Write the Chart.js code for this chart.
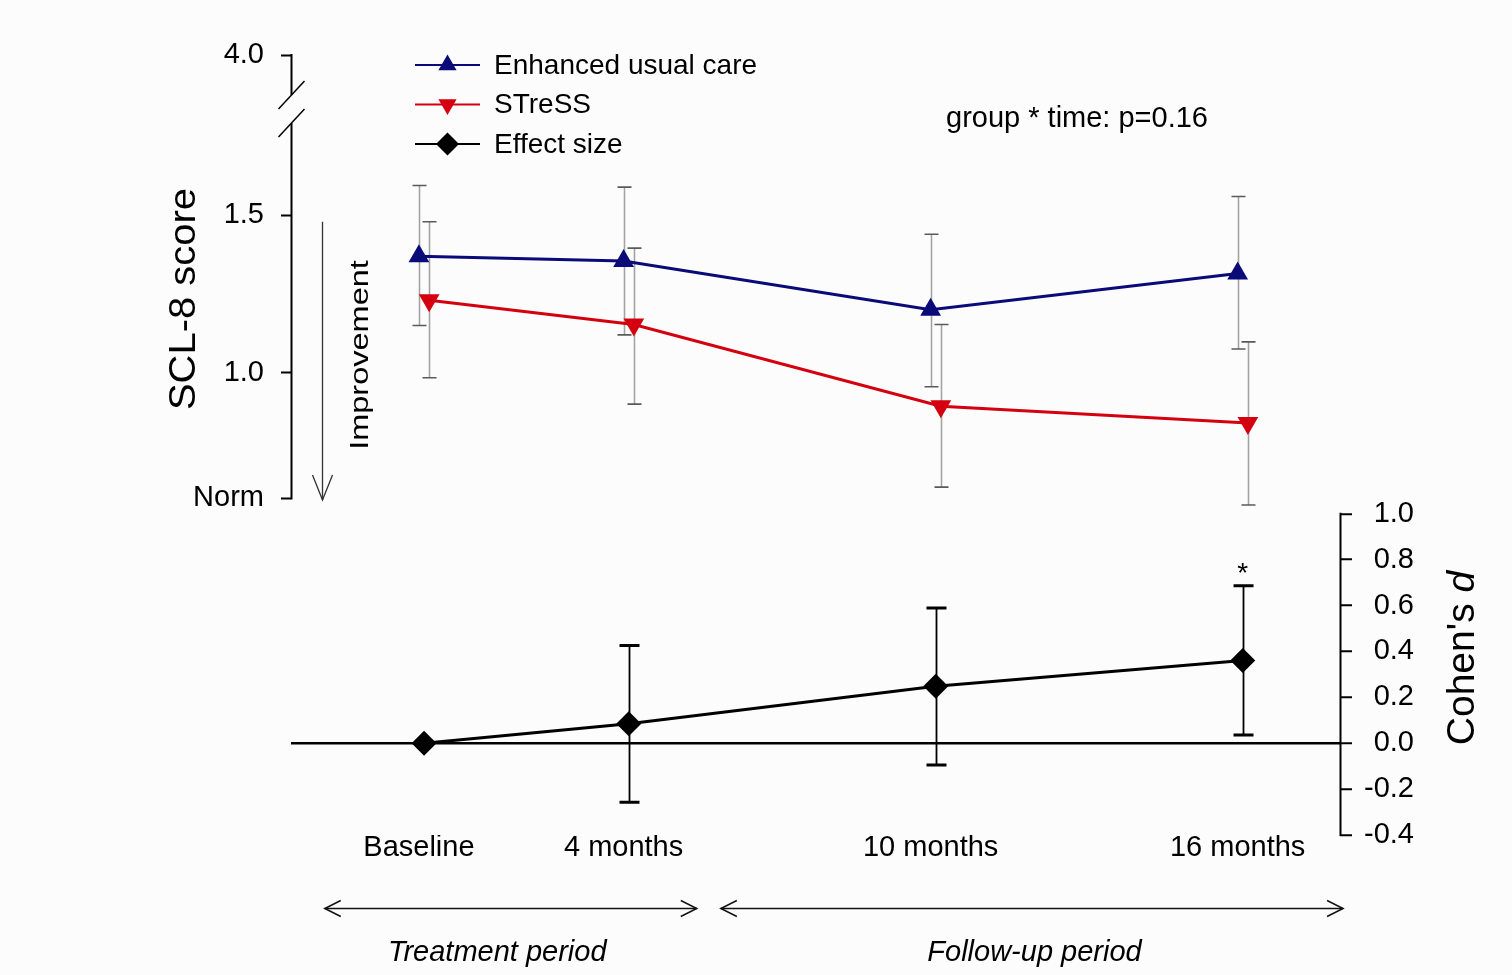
<!DOCTYPE html>
<html>
<head>
<meta charset="utf-8">
<title>SCL-8 score and effect size</title>
<script src="https://cdn.jsdelivr.net/npm/chart.js@4.4.1/dist/chart.umd.min.js"></script>
<style>
    html, body { margin: 0; padding: 0; background: #fcfcfc; }
    #wrap { position: relative; width: 1512px; height: 975px; }
</style>
</head>
<body>
<div id="wrap"><canvas id="chart"></canvas></div>
<script>
// ------------------------------------------------------------
// data
// ------------------------------------------------------------

// time points (months since baseline) and their labels
const months = [0, 4, 10, 16];
const timeLabels = ["Baseline", "4 months", "10 months", "16 months"];

// SCL-8 score, enhanced usual care: mean and error bar ends
const eucMean = [1.37, 1.355, 1.20, 1.315];
const eucLow = [1.15, 1.12, 0.955, 1.075];
const eucHigh = [1.595, 1.59, 1.44, 1.56];

// SCL-8 score, STreSS
const stressMean = [1.23, 1.153, 0.893, 0.84];
const stressLow = [0.984, 0.90, 0.636, 0.579];
const stressHigh = [1.48, 1.396, 1.153, 1.098];

// Cohen's d between groups, with error bar ends
const effectD = [0.0, 0.085, 0.248, 0.361];
const effectLow = [null, -0.257, -0.095, 0.036];
const effectHigh = [null, 0.426, 0.589, 0.686];
const effectSig = ["", "", "", "*"];

// axis ticks (SCL axis is broken: its top tick stands for 4.0)
const sclTickValues = [0.6, 1.0, 1.5, 2.01];
const sclTickLabels = ["Norm", "1.0", "1.5", "4.0"];
const dTickValues = [-0.4, -0.2, 0.0, 0.2, 0.4, 0.6, 0.8, 1.0];

const periodLabels = ["Treatment period", "Follow-up period"];
const interaction = "group * time: p=0.16";

// ------------------------------------------------------------

const FONT = '"Liberation Sans", Arial, Helvetica, sans-serif';
const NAVY = "#0a0a78";
const RED = "#d4000f";
const BLACK = "#000000";

// small x shifts so the series don't sit on top of each other
const SHIFT_EUC = 0, SHIFT_D = 0.1, SHIFT_STRESS = 0.2;

function toPoints(values, shift) {
    return values.map((v, i) => ({ x: months[i] + shift, y: v }));
}

function drawErrorBars(chart, shift, lo, hi, axisId, st) {
    const ctx = chart.ctx;
    const xs = chart.scales.x, ys = chart.scales[axisId];
    ctx.save();
    lo.forEach((l, i) => {
        if (l === null) return;
        const x = Math.round(xs.getPixelForValue(months[i] + shift)) + 0.5;
        const y1 = ys.getPixelForValue(l);
        const y2 = ys.getPixelForValue(hi[i]);
        ctx.strokeStyle = st.stem;
        ctx.lineWidth = st.width;
        ctx.beginPath();
        ctx.moveTo(x, y1);
        ctx.lineTo(x, y2);
        ctx.stroke();
        ctx.strokeStyle = st.cap;
        ctx.lineWidth = st.capWidth;
        ctx.beginPath();
        ctx.moveTo(x - st.half, y1); ctx.lineTo(x + st.half, y1);
        ctx.moveTo(x - st.half, y2); ctx.lineTo(x + st.half, y2);
        ctx.stroke();
    });
    ctx.restore();
}

const errorBarPlugin = {
    id: "errorBars",
    beforeDatasetsDraw(chart) {
        const grey = { stem: "#a3a3a3", cap: "#5a5a5a", width: 1.6, capWidth: 1.6, half: 7 };
        drawErrorBars(chart, SHIFT_EUC, eucLow, eucHigh, "y", grey);
        drawErrorBars(chart, SHIFT_STRESS, stressLow, stressHigh, "y", grey);
        drawErrorBars(chart, SHIFT_D, effectLow, effectHigh, "yd",
            { stem: BLACK, cap: BLACK, width: 1.8, capWidth: 3, half: 10 });
    }
};

function line(ctx, x1, y1, x2, y2) {
    ctx.beginPath();
    ctx.moveTo(x1, y1);
    ctx.lineTo(x2, y2);
    ctx.stroke();
}

function rotatedText(ctx, text, x, y, font, stretch) {
    ctx.save();
    ctx.translate(x, y);
    ctx.rotate(-Math.PI / 2);
    ctx.scale(stretch, 1);
    ctx.font = font;
    ctx.textAlign = "center";
    ctx.textBaseline = "middle";
    ctx.fillText(text, 0, 0);
    ctx.restore();
}

function marker(ctx, style, rotation, radius, x, y) {
    if (Chart.helpers && Chart.helpers.drawPoint) {
        Chart.helpers.drawPoint(ctx, {
            pointStyle: style, rotation, radius, borderWidth: 0
        }, x, y);
    }
}

const decorPlugin = {
    id: "decor",
    afterDraw(chart) {
        const { ctx, chartArea: area } = chart;
        const xs = chart.scales.x, ys = chart.scales.y, yd = chart.scales.yd;
        ctx.save();
        ctx.strokeStyle = BLACK;
        ctx.fillStyle = BLACK;
        ctx.lineCap = "butt";

        // left (SCL-8) axis line with break
        const lx = area.left + 0.5;
        const yTop = ys.getPixelForValue(sclTickValues[3]);
        const yBrkA = ys.getPixelForValue(1.883);
        const yBrkB = ys.getPixelForValue(1.794);
        ctx.lineWidth = 2;
        line(ctx, lx, ys.getPixelForValue(sclTickValues[0]) + 1, lx, yBrkB);
        line(ctx, lx, yBrkA, lx, yTop - 1);
        ctx.lineWidth = 1.5;
        [yBrkA, yBrkB].forEach(y => line(ctx, lx - 13, y + 14, lx + 13, y - 14));

        // right (Cohen's d) axis line
        const rx = area.right + 0.5;
        ctx.lineWidth = 2;
        line(ctx, rx, yd.getPixelForValue(-0.4) + 1, rx, yd.getPixelForValue(1.0) - 1);

        // "Improvement" arrow
        const ax = area.left + 31.5;
        const aTop = ys.getPixelForValue(1.48);
        const aBot = ys.getPixelForValue(0.595);
        ctx.strokeStyle = "#333";
        ctx.lineWidth = 1.3;
        line(ctx, ax, aTop, ax, aBot);
        ctx.beginPath();
        ctx.moveTo(ax - 10, aBot - 25);
        ctx.lineTo(ax, aBot);
        ctx.lineTo(ax + 10, aBot - 25);
        ctx.stroke();

        // axis titles
        ctx.fillStyle = BLACK;
        rotatedText(ctx, "SCL-8 score", 185, 299, "37px " + FONT, 1.08);
        rotatedText(ctx, "Improvement", 361, 355, "25px " + FONT, 1.3);

        // Cohen's d (italic d)
        ctx.save();
        ctx.translate(1463, 658);
        ctx.rotate(-Math.PI / 2);
        ctx.textBaseline = "middle";
        ctx.font = "39px " + FONT;
        const part1 = "Cohen's ";
        const w1 = ctx.measureText(part1).width;
        ctx.font = "italic 39px " + FONT;
        const w2 = ctx.measureText("d").width;
        const startX = -(w1 + w2) / 2;
        ctx.font = "39px " + FONT;
        ctx.textAlign = "left";
        ctx.fillText(part1, startX, 0);
        ctx.font = "italic 39px " + FONT;
        ctx.fillText("d", startX + w1, 0);
        ctx.restore();

        // legend
        const rows = [
            { text: "Enhanced usual care", color: NAVY, style: "triangle", rot: 0, r: 10.5 },
            { text: "STreSS", color: RED, style: "triangle", rot: 180, r: 10.5 },
            { text: "Effect size", color: BLACK, style: "rectRot", rot: 0, r: 11.5 }
        ];
        rows.forEach((row, i) => {
            const y = 65 + i * 39.5;
            ctx.strokeStyle = row.color;
            ctx.fillStyle = row.color;
            ctx.lineWidth = 2;
            line(ctx, 415, y, 480, y);
            marker(ctx, row.style, row.rot, row.r, 447.5, y);
            ctx.fillStyle = BLACK;
            ctx.font = "28px " + FONT;
            ctx.textAlign = "left";
            ctx.textBaseline = "middle";
            ctx.fillText(row.text, 494, y + 1);
        });

        // interaction p value
        ctx.font = "29px " + FONT;
        ctx.textAlign = "left";
        ctx.textBaseline = "middle";
        ctx.fillText(interaction, 946, 119);

        // significance marks above the effect size error bars
        ctx.font = "28px " + FONT;
        ctx.textAlign = "center";
        effectSig.forEach((s, i) => {
            if (!s) return;
            ctx.fillText(s, xs.getPixelForValue(months[i] + SHIFT_D),
                yd.getPixelForValue(effectHigh[i]) - 12);
        });

        // period arrows and labels below the axis
        const spans = [[-1.84, 5.43, 1.53], [5.9, 18.06, 12.03]];
        const py = area.bottom + 73.5;
        ctx.strokeStyle = "#111";
        ctx.lineWidth = 1.5;
        spans.forEach((sp, i) => {
            const x1 = xs.getPixelForValue(sp[0]);
            const x2 = xs.getPixelForValue(sp[1]);
            line(ctx, x1, py, x2, py);
            ctx.beginPath();
            ctx.moveTo(x1 + 16, py - 8); ctx.lineTo(x1, py); ctx.lineTo(x1 + 16, py + 8);
            ctx.moveTo(x2 - 16, py - 8); ctx.lineTo(x2, py); ctx.lineTo(x2 - 16, py + 8);
            ctx.stroke();
            ctx.font = "italic 29px " + FONT;
            ctx.textAlign = "center";
            ctx.textBaseline = "middle";
            ctx.fillText(periodLabels[i], xs.getPixelForValue(sp[2]), area.bottom + 118);
        });

        ctx.restore();
    }
};

Chart.defaults.font.family = FONT;
Chart.defaults.color = BLACK;

new Chart(document.getElementById("chart"), {
    type: "line",
    data: {
        datasets: [
            {
                label: "Effect size",
                data: toPoints(effectD, SHIFT_D),
                yAxisID: "yd",
                borderColor: BLACK,
                backgroundColor: BLACK,
                borderWidth: 3,
                pointStyle: "rectRot",
                pointRadius: 12.5,
                pointHoverRadius: 12.5,
                pointBorderWidth: 0,
                clip: false
            },
            {
                label: "Enhanced usual care",
                data: toPoints(eucMean, SHIFT_EUC),
                yAxisID: "y",
                borderColor: NAVY,
                backgroundColor: NAVY,
                borderWidth: 3,
                pointStyle: "triangle",
                pointRadius: 12,
                pointHoverRadius: 12,
                pointBorderWidth: 0,
                clip: false
            },
            {
                label: "STreSS",
                data: toPoints(stressMean, SHIFT_STRESS),
                yAxisID: "y",
                borderColor: RED,
                backgroundColor: RED,
                borderWidth: 3,
                pointStyle: "triangle",
                pointRotation: 180,
                pointRadius: 12,
                pointHoverRadius: 12,
                pointBorderWidth: 0,
                clip: false
            }
        ]
    },
    options: {
        responsive: true,
        maintainAspectRatio: false,
        animation: false,
        events: [],
        layout: { padding: { top: 55, bottom: 0, left: 0, right: 98 } },
        plugins: {
            legend: { display: false },
            tooltip: { enabled: false }
        },
        scales: {
            x: {
                type: "linear",
                min: -2.5,
                max: 18,
                afterBuildTicks: s => { s.ticks = months.map(v => ({ value: v })); },
                afterFit: s => { s.height = 140; },
                grid: { display: false, drawTicks: false },
                border: { display: false },
                ticks: {
                    autoSkip: false,
                    maxRotation: 0,
                    minRotation: 0,
                    padding: -4,
                    color: BLACK,
                    font: { size: 29 },
                    callback: v => timeLabels[months.indexOf(v)]
                }
            },
            y: {
                type: "linear",
                position: "left",
                min: -0.47,
                max: 2.01,
                afterBuildTicks: s => { s.ticks = sclTickValues.map(v => ({ value: v })); },
                afterFit: s => { s.width = 291; },
                grid: {
                    drawOnChartArea: false,
                    tickLength: 10,
                    tickColor: BLACK,
                    tickWidth: 2
                },
                border: { display: false },
                ticks: {
                    autoSkip: false,
                    padding: 17,
                    color: BLACK,
                    font: { size: 29 },
                    callback: (v, i) => sclTickLabels[i]
                }
            },
            yd: {
                type: "linear",
                position: "right",
                min: -0.4,
                max: 3.0,
                afterBuildTicks: s => { s.ticks = dTickValues.map(v => ({ value: v })); },
                afterFit: s => { s.width = 74; },
                grid: {
                    drawOnChartArea: true,
                    color: c => (c.tick && c.tick.value === 0 ? BLACK : "rgba(0,0,0,0)"),
                    lineWidth: 2.5,
                    tickLength: 12,
                    tickColor: BLACK,
                    tickWidth: 2
                },
                border: { display: false },
                ticks: {
                    autoSkip: false,
                    crossAlign: "far",
                    padding: 12,
                    color: BLACK,
                    font: { size: 29 },
                    callback: v => v.toFixed(1)
                }
            }
        }
    },
    plugins: [errorBarPlugin, decorPlugin]
});
</script>
</body>
</html>
